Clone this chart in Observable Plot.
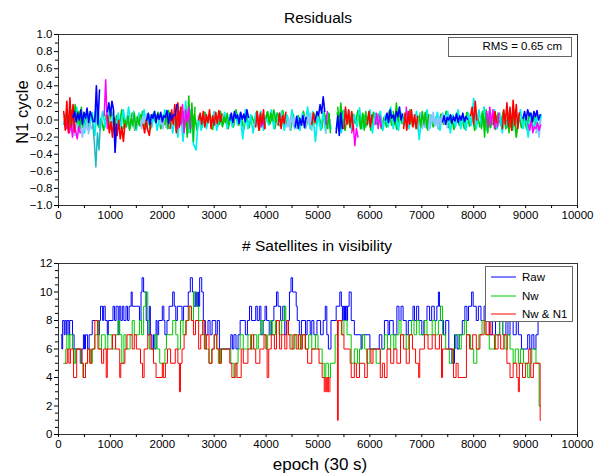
<!DOCTYPE html>
<html><head><meta charset="utf-8">
<script src="https://cdn.jsdelivr.net/npm/d3@7"></script>
<script src="https://cdn.jsdelivr.net/npm/@observablehq/plot@0.6"></script>
<style>
html,body{margin:0;padding:0;background:#fff;}
#wrap{position:relative;width:605px;height:474px;overflow:hidden;font-family:"Liberation Sans",Arial,sans-serif;color:#000;}
.abs{position:absolute;white-space:nowrap;}
.ctr{transform:translate(-50%,-50%);}
.legend{position:absolute;background:#fff;border:1px solid #555;box-sizing:border-box;font-size:12px;}
.item{position:absolute;left:0;display:flex;align-items:center;}
</style></head><body><div id="wrap"></div>
<script>
// ---------------- DATA ----------------
const residualTitle = "Residuals";
const satTitle = "# Satellites in visibility";
const yLabelTop = "N1 cycle";
const xLabel = "epoch (30 s)";
const rmsText = "RMS = 0.65 cm";
const xTicks = [0,1000,2000,3000,4000,5000,6000,7000,8000,9000,10000];
const xMinorTicks = [500,1500,2500,3500,4500,5500,6500,7500,8500,9500];
const yTicksTop = [-1,-0.8,-0.6,-0.4,-0.2,0,0.2,0.4,0.6,0.8,1];
const yMinorTop = [-0.9,-0.7,-0.5,-0.3,-0.1,0.1,0.3,0.5,0.7,0.9];
const yTicksBottom = [0,2,4,6,8,10,12];
const yMinorBottom = [0.5,1,1.5,2.5,3,3.5,4.5,5,5.5,6.5,7,7.5,8.5,9,9.5,10.5,11,11.5];

// residual segments: [start epoch, values in 1/100 cycle], sampled every resStep / baseStep epochs
const resStep = 30;
const baseStep = 50;
const cyanSegs = [
 [100,[-5,8,-12,10,-8,15,-10,6,-15,12,-6,9,-18,18,-12,10,-8,14,-10,5,-15,8,-10,12,-8,15,-6,10,-12,8,-5,12,-10,6,-8,10,-12,5,-6,12,-10,8,-15,10,-20,15,-25,22,-15,12,-28,-35,5,-12,8,-10,6,-8,10,-12,5,-6,9,-10,6,-8,10,-5,8,-22,12,-10,6,-15,8,-8,10,-12,5,-6,12,-10,8,-5,10,-12,6,-8,12,-10,5,-12,8,-6,15,-10,10,-25,6,-12,10,-15,8,-10]],
 [5350,[-10,8,-15,12,-5,10,-12,6,-8,14,-10,5,-6,12,-15,8,-4,10,-12,6,-8,15,-10,5,-12,9,-6,12,-10,8,-5,10,-23,6,-8,12,-10,5,-6,9,-12,8,-5,10,-15,6,-8,12,-10,5,-12,8,-6,25,-10,12,-8,15,-12,10,-6,12,-10,8,-15,6,-8,10,-12,5,-8,12,-10,6,-20,8,-12,5,-15,6]]
];
const greenBaseSegs = [
 [120,[6,-10,4,-12,8,-6,10,-9,3,-11,7,-5,9,-8,2,-12,6,-4,10,-10,5,-8,12,-6,3,-10,8,-12,4,-7,10,-9,5,-11,7,-3,9,-10,6,-8,11,-5,4,-12,8,-6,10,-10,3,-9,7,-12,5,-8,9,-4,6,-11,8,-7,10,-5,4,-10,6,-8,12,-6,3,-11,7,-9,5,-4,10,-12,6,-8,9,-5,4,-10,8,-7,11,-6,3,-12,7,-9,5,-4,10,-8,6,-11,8,-5,4,-10,9,-7,6]],
 [5370,[8,-6,10,-12,5,-9,7,-4,11,-10,6,-8,4,-12,9,-5,7,-10,3,-8,10,-6,5,-11,8,-4,6,-9,12,-7,4,-10,8,-5,9,-12,6,-8,3,-10,7,-5,10,-9,5,-11,8,-6,4,-10,9,-7,6,-12,5,-8,10,-4,7,-9,3,-11,8,-6,10,-10,5,-8,12,-20,6,-9,4,-11,8,-6,5,-10]]
];
const lightBlueSegs = [
 [250,[-12,-5,-18,0,-10,-15,-3,-20,-8,-12,-2,-16,-6,-10,-4]],
 [1300,[-5,5,-10,3,-8,8,-12,2,-6,6,-10,4,-3,7]],
 [1950,[-6,4,-10,2,-8,6]],
 [4400,[-8,2,-12,5,-6,3,-10]],
 [4700,[-6,4,-10,6,-4,8,-12]],
 [5150,[-15,5,-10,0]],
 [6950,[-5,8,-10,5,-8,3,-12,6,-4,9,-7,2,-10,4,-6,7,-3,5,-9]],
 [9200,[-15,-5,-20,0]]
];
const darkCyanSegs = [
 [660,[-5,-25,-55,-15,-35,0]]
];
const greenSegs = [
 [200,[5,-8,12,-5,18,-3,10,-10,15,-6]],
 [1250,[-10,0,-8,5,-12,2,-6,8,-10,3,-5,6]],
 [2050,[-5,8,-10,4]],
 [2450,[10,-20,28,-15,20,-25,15]],
 [3100,[-5,6,-8,4,-3,8,-6]],
 [4000,[2,10,-3,8,0,12,-2,7,5]],
 [5150,[5,-10,8,-15]],
 [5380,[15,-5,20,-8]],
 [5800,[5,-10,8,-12,10,-5]],
 [6450,[10,-5,20,0,15]],
 [6950,[5,-8,10,-5,8,-10,6]],
 [8150,[-10,8,-20,12,-15,5,-8]],
 [8650,[10,-15,5,-12,8]]
];
const magentaSegs = [
 [150,[-10,5,-15,-5,-20,0,-12,-22,-8,-15]],
 [880,[5,47,-10]],
 [2300,[-10,10,-5,18,-15,12,-2,15,-10]],
 [3850,[-5,5,-8,3,-10]],
 [5150,[-5,10]],
 [5650,[-15,-5,-30,-10,-20]],
 [6100,[-5,8,-10,5,-8]],
 [6700,[15,-5,10]],
 [8250,[10,-8,15,-5,12,-10,5,-8,8]],
 [9050,[-5,-12,0,-15,-8,-10,-3,-12,-6]]
];
const redSegs = [
 [100,[10,-12,22,-15,26,-8,18,-14]],
 [950,[5,-15,-2,-20,3,-12,-18,0,-22,-8,-25,-5]],
 [1630,[-5,-15,0,-12,-18,-3]],
 [2150,[-10,12,-5,18,-15,20,-8,15]],
 [2700,[0,8,-5,10,-8,6,-3,12,-10,5,-6,9,-4,11,-2,7]],
 [3800,[-8,10,-12,8,-5,12,-10]],
 [4230,[-6,8,-10,5,-4,9]],
 [4880,[-5,8,-3]],
 [5500,[-10,15,-5,12,-8,10,-12]],
 [5950,[-5,10,-8,6]],
 [6650,[-10,8,-12,10,-5,12,-8,6,-10,4]],
 [7940,[5,15,-5,22,0]],
 [8380,[-5,10,-3]],
 [8550,[-10,12,-5,20,-8,15,-12,23,-6,18,-10,8]]
];
const blueSegs = [
 [280,[3,10,-2,8,0,12,-5,9,2,14,-3,10,5,-2]],
 [700,[-2,40,-5,35]],
 [940,[10,20,5,22,12,-38,-5]],
 [1700,[0,8,-5,6,2,10,-3,7,1,9,-2,5,3,11,-4,8,0,6]],
 [2250,[5,18]],
 [3300,[0,8,-3,10,2,6,-4,9,1,7,-2,12,3]],
 [4560,[-8,4,-10,2,-6,5,-9,3]],
 [4950,[0,10,5,18,8,27,10]],
 [5350,[-15,5,-18,8,-10]],
 [6300,[0,8,-3,12,2,6,-2,10,4,15,0,7]],
 [7400,[-2,5,-5,3,0,6,-4,4,-1,7,-3,5,0,8,-2,4,1]],
 [8950,[2,10,0,12,5,8,-2,10,4,11,0,6]]
];

// satellites in visibility: change points [epoch, count]
const raw = [[50,7],[65,6],[80,8],[110,7],[125,8],[150,7],[165,8],[200,7],[215,8],[270,7],[300,6],[420,5],[450,6],[480,7],[500,6],[520,7],[560,6],[590,7],[650,8],[760,7],[790,8],[810,9],[850,8],[870,9],[900,8],[940,7],[960,8],[1050,9],[1080,8],[1110,9],[1150,7],[1170,9],[1200,8],[1230,9],[1260,8],[1300,9],[1330,8],[1360,9],[1400,10],[1420,9],[1560,8],[1590,10],[1610,11],[1640,10],[1690,8],[1720,7],[1750,9],[1770,7],[1800,6],[1830,7],[1850,6],[1880,8],[1900,7],[1930,8],[2000,9],[2030,8],[2050,7],[2090,8],[2130,9],[2200,10],[2230,9],[2260,8],[2290,9],[2380,8],[2410,9],[2500,10],[2540,11],[2580,10],[2610,9],[2640,10],[2650,9],[2660,10],[2670,9],[2690,10],[2700,9],[2720,11],[2760,10],[2790,8],[2830,7],[2880,8],[2920,7],[2960,8],[3030,7],[3060,8],[3100,6],[3320,7],[3350,6],[3380,7],[3420,6],[3460,7],[3500,8],[3600,7],[3640,8],[3680,9],[3720,8],[3800,9],[3830,8],[3870,9],[3900,7],[3940,8],[3980,9],[4010,8],[4060,7],[4100,8],[4150,9],[4200,10],[4230,9],[4280,8],[4320,9],[4360,7],[4390,8],[4450,10],[4480,11],[4510,10],[4580,9],[4600,8],[4640,7],[4680,8],[4760,7],[4790,8],[4850,7],[4880,8],[4920,7],[4980,8],[5050,7],[5100,8],[5140,9],[5170,7],[5200,6],[5250,8],[5350,9],[5420,10],[5450,9],[5470,8],[5480,9],[5500,8],[5510,9],[5530,8],[5540,9],[5560,8],[5570,9],[5600,10],[5640,8],[5700,7],[5830,6],[5850,7],[6000,6],[6180,7],[6230,6],[6280,8],[6350,7],[6380,8],[6450,7],[6520,9],[6560,8],[6600,9],[6640,8],[6700,7],[6740,8],[6830,9],[6860,8],[6900,9],[6940,8],[7000,7],[7040,8],[7100,9],[7150,8],[7190,9],[7240,8],[7290,9],[7320,10],[7340,9],[7360,8],[7420,7],[7460,8],[7520,6],[7580,5],[7630,7],[7680,6],[7720,7],[7780,8],[7830,9],[7870,8],[7900,9],[7960,10],[7990,9],[8050,8],[8090,9],[8140,8],[8200,9],[8240,8],[8300,7],[8360,8],[8420,7],[8500,8],[8560,7],[8620,8],[8660,7],[8700,8],[8760,7],[8820,9],[8860,7],[8920,6],[9040,7],[9080,6],[9120,7],[9160,6],[9200,7],[9240,8],[9280,8]];
const nw = [[100,5],[140,6],[160,7],[200,6],[220,7],[270,6],[300,5],[330,6],[430,5],[470,4],[520,5],[560,6],[620,5],[650,6],[700,7],[750,8],[780,6],[830,7],[900,6],[950,7],[1030,6],[1100,7],[1150,8],[1180,7],[1220,5],[1260,7],[1300,6],[1380,7],[1420,8],[1460,7],[1560,8],[1600,7],[1640,9],[1680,10],[1720,8],[1750,6],[1850,7],[1900,6],[1950,5],[2050,6],[2080,7],[2200,8],[2260,7],[2300,6],[2350,8],[2400,7],[2450,8],[2520,9],[2560,8],[2600,10],[2650,9],[2700,8],[2780,7],[2830,6],[2900,5],[2950,6],[3000,7],[3050,6],[3080,5],[3120,6],[3320,5],[3380,4],[3420,5],[3460,6],[3500,7],[3560,6],[3650,7],[3700,6],[3760,7],[3820,6],[3850,7],[3900,8],[3950,7],[4000,6],[4030,7],[4080,8],[4120,7],[4180,8],[4250,7],[4300,8],[4350,9],[4380,8],[4430,7],[4500,6],[4550,7],[4620,6],[4680,7],[4750,6],[4820,7],[4880,6],[4950,7],[5000,6],[5080,5],[5120,4],[5150,5],[5200,4],[5240,5],[5330,7],[5380,8],[5450,7],[5500,8],[5560,7],[5640,5],[5700,6],[5760,5],[5800,6],[5850,7],[5900,6],[5940,5],[6000,6],[6120,5],[6200,6],[6280,7],[6340,6],[6400,7],[6460,6],[6500,7],[6560,8],[6600,7],[6700,6],[6750,7],[6800,8],[6850,7],[6900,8],[6950,7],[7050,8],[7100,7],[7200,8],[7260,7],[7320,8],[7360,9],[7400,7],[7460,6],[7530,5],[7590,6],[7650,7],[7720,6],[7760,7],[7820,8],[7860,7],[7940,6],[8000,5],[8060,6],[8100,7],[8160,8],[8220,7],[8300,6],[8420,7],[8500,8],[8560,7],[8600,6],[8650,7],[8700,6],[8760,5],[8800,6],[8860,5],[8900,6],[8960,5],[9040,4],[9080,5],[9120,6],[9200,5],[9260,2],[9290,2]];
const nwN1 = [[140,5],[170,6],[200,5],[230,6],[290,4],[350,6],[450,5],[480,4],[520,5],[560,6],[600,5],[640,6],[700,8],[760,6],[830,5],[870,6],[920,4],[940,6],[1040,7],[1100,6],[1180,4],[1200,5],[1280,6],[1320,7],[1420,6],[1460,7],[1500,6],[1580,5],[1620,4],[1650,6],[1720,7],[1780,6],[1830,5],[1880,4],[2000,5],[2020,4],[2060,5],[2100,6],[2160,5],[2250,6],[2300,5],[2330,3],[2350,5],[2380,6],[2420,7],[2460,8],[2500,9],[2560,8],[2600,7],[2640,8],[2700,6],[2740,7],[2780,8],[2810,6],[2850,7],[2900,5],[2960,6],[3000,7],[3050,6],[3100,5],[3140,6],[3300,5],[3340,4],[3400,5],[3440,4],[3520,6],[3560,5],[3650,6],[3720,7],[3760,6],[3800,5],[3880,6],[3960,7],[4000,6],[4020,4],[4050,6],[4100,7],[4160,6],[4200,8],[4260,6],[4300,7],[4360,6],[4400,8],[4430,7],[4460,6],[4520,7],[4580,6],[4620,7],[4660,6],[4700,7],[4760,6],[4800,5],[4880,6],[4960,6],[5020,5],[5080,4],[5120,3],[5140,4],[5160,3],[5180,4],[5200,3],[5230,4],[5250,null],[5360,8],[5375,1],[5390,8],[5460,7],[5500,6],[5620,5],[5640,4],[5700,5],[5740,4],[5800,5],[5900,4],[5950,6],[6020,5],[6060,6],[6200,4],[6240,5],[6280,4],[6330,6],[6400,5],[6460,6],[6520,5],[6590,7],[6650,6],[6700,5],[6760,7],[6820,6],[6880,5],[6940,4],[6960,6],[7050,7],[7120,6],[7200,7],[7260,6],[7340,7],[7380,4],[7400,6],[7500,6],[7610,4],[7660,5],[7700,4],[7860,7],[7920,6],[7980,7],[8050,6],[8120,7],[8200,8],[8240,7],[8300,8],[8330,7],[8400,6],[8470,7],[8520,6],[8580,7],[8640,5],[8700,4],[8760,5],[8830,4],[8860,3],[8880,5],[8940,4],[9000,5],[9060,6],[9100,4],[9150,5],[9280,1],[9290,1]];

const legendItems = ["Raw","Nw","Nw & N1"];

// ---------------- BUILD ----------------
function rows(segs, step) {
  const out = [];
  segs.forEach(([start, vals], k) => vals.forEach((v, i) => out.push({epoch: start + i * step, value: v / 100, seg: k})));
  return out;
}
const font = "'Liberation Sans', Arial, sans-serif";
const wrap = document.getElementById("wrap");
const fmtTop = d => (d < 0 ? "\u2212" : "") + Math.abs(d).toFixed(1);

const resLine = (segs, step, color, w) => Plot.line(rows(segs, step), {x: "epoch", y: "value", z: "seg", stroke: color, strokeWidth: w});

const topPlot = Plot.plot({
  width: 605, height: 230,
  marginLeft: 58, marginRight: 28, marginTop: 34, marginBottom: 25,
  x: {domain: [0, 10000], label: null},
  y: {domain: [-1, 1], label: null},
  style: {fontFamily: font, fontSize: "11.5px", background: "transparent", color: "#000"},
  marks: [
    resLine(greenBaseSegs, baseStep, "#00c800", 1.7),
    resLine(cyanSegs, baseStep, "#00f0f0", 1.7),
    resLine(lightBlueSegs, resStep, "#8cc4ff", 1.7),
    resLine(darkCyanSegs, resStep, "#20b8c0", 1.5),
    resLine(greenSegs, resStep, "#00c800", 1.5),
    resLine(magentaSegs, resStep, "#ff00ff", 1.5),
    resLine(redSegs, resStep, "#ff0000", 1.6),
    resLine(blueSegs, resStep, "#0000ff", 1.6),
    Plot.frame({stroke: "#333"}),
    Plot.axisY({ticks: yTicksTop, tickSize: 4, tickPadding: 2, tickFormat: fmtTop}),
    Plot.axisY({ticks: yMinorTop, tickSize: 3, tickFormat: () => ""}),
    Plot.axisX({ticks: xTicks, tickSize: 3, tickPadding: 2, tickFormat: d => String(d)}),
    Plot.axisX({ticks: xMinorTicks, tickSize: 3, tickFormat: () => ""})
  ]
});
topPlot.style.position = "absolute"; topPlot.style.left = "0px"; topPlot.style.top = "0px";
wrap.appendChild(topPlot);

const stepLine = (data, color) => Plot.line(data, {x: d => d[0], y: d => d[1], curve: "step-after", stroke: color, strokeWidth: 1});
const bottomPlot = Plot.plot({
  width: 605, height: 244,
  marginLeft: 58, marginRight: 28, marginTop: 33, marginBottom: 40,
  x: {domain: [0, 10000], label: null},
  y: {domain: [0, 12], label: null},
  style: {fontFamily: font, fontSize: "11.5px", background: "transparent", color: "#000"},
  marks: [
    stepLine(raw, "#0000ff"),
    stepLine(nw, "#00c800"),
    stepLine(nwN1, "#ff0000"),
    Plot.frame({stroke: "#333"}),
    Plot.axisY({ticks: yTicksBottom, tickSize: 4, tickPadding: 2, tickFormat: d => String(d)}),
    Plot.axisY({ticks: yMinorBottom, tickSize: 3, tickFormat: () => ""}),
    Plot.axisX({ticks: xTicks, tickSize: 3, tickPadding: 2, tickFormat: d => String(d)}),
    Plot.axisX({ticks: xMinorTicks, tickSize: 3, tickFormat: () => ""})
  ]
});
bottomPlot.style.position = "absolute"; bottomPlot.style.left = "0px"; bottomPlot.style.top = "230px";
wrap.appendChild(bottomPlot);

function addText(txt, x, y, size, extra) {
  const d = document.createElement("div");
  d.className = "abs ctr";
  d.textContent = txt;
  d.style.left = x + "px"; d.style.top = y + "px"; d.style.fontSize = size + "px";
  if (extra) Object.assign(d.style, extra);
  wrap.appendChild(d);
  return d;
}
addText(residualTitle, 318, 18, 15.5);
addText(satTitle, 317, 246, 15.5);
addText(xLabel, 320, 465, 17);
addText(yLabelTop, 22, 112, 16.5, {transform: "translate(-50%,-50%) rotate(-90deg)"});

// RMS legend
const rms = document.createElement("div");
rms.className = "legend";
Object.assign(rms.style, {left: "448px", top: "37px", width: "124px", height: "20px", border: "1px solid #666"});
const rt = document.createElement("div");
rt.textContent = rmsText;
Object.assign(rt.style, {position: "absolute", right: "9px", top: "2px", fontSize: "11.5px"});
rms.appendChild(rt);
wrap.appendChild(rms);

// series legend
const colors = ["#0000ff", "#00c800", "#ff0000"];
const leg = document.createElement("div");
leg.className = "legend";
Object.assign(leg.style, {left: "485px", top: "266px", width: "88px", height: "56px", border: "1px solid #666"});
legendItems.forEach((name, i) => {
  const it = document.createElement("div");
  it.className = "item";
  it.style.top = (3 + i * 18.5) + "px";
  it.innerHTML = `<svg width="36" height="14"><line x1="5" x2="30" y1="7" y2="7" stroke="${colors[i]}" stroke-width="1"/></svg><span style="font-size:11.5px">${name.replace("&", "&amp;")}</span>`;
  leg.appendChild(it);
});
wrap.appendChild(leg);
</script></body></html>
